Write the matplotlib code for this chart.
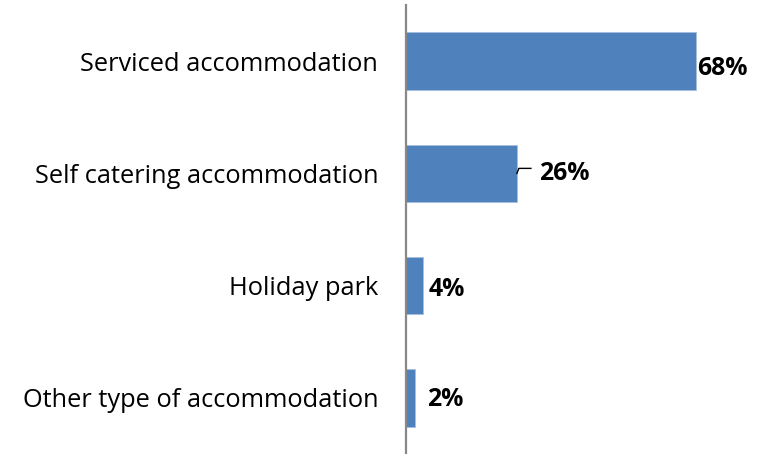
import matplotlib
matplotlib.use("Agg")
import matplotlib.pyplot as plt
from matplotlib.transforms import offset_copy

categories = ["Serviced accommodation", "Self catering accommodation",
              "Holiday park", "Other type of accommodation"]
values = [68, 26, 4, 2]
value_labels = ["68%", "26%", "4%", "2%"]

plt.rcParams['font.family'] = ['Open Sans', 'DejaVu Sans']

W, H = 765, 454
fig = plt.figure(figsize=(W / 100, H / 100), dpi=100)
ax_left = 406 / W
ax_top = (H - 5) / H
ax = fig.add_axes([ax_left, 0, 1 - ax_left, ax_top])

px_per_unit = (696 - 406) / 68.0
ax.set_xlim(0, (W - 406) / px_per_unit)
ax.set_ylim(len(categories) - 0.5, -0.5)

ypos = list(range(len(categories)))
ax.barh(ypos, values, height=0.511, color="#4f81bd", edgecolor="#a7bfde", linewidth=0.6)

ax.set_yticks(ypos)
ax.set_yticklabels(categories, fontsize=18.3, color="#000000")
ax.tick_params(axis="y", length=0, pad=20)
ax.set_xticks([])
for s in ["top", "right", "bottom"]:
    ax.spines[s].set_visible(False)
ax.spines["left"].set_color("#888888")
ax.spines["left"].set_linewidth(1.6)

# manual label positions in pixels relative to bar end / bar centre (baseline below centre)
offsets = [1, 22, 6, 13]
base_dy = [14, 6.5, 10.7, 8.2]
for i, (v, lab) in enumerate(zip(values, value_labels)):
    tr = offset_copy(ax.transData, fig=fig, x=offsets[i], y=-base_dy[i], units="dots")
    ax.text(v, i, lab, transform=tr, fontsize=17.8, fontweight="bold",
            ha="left", va="baseline", color="#000000")

# leader line for the 26% label
i = 1
v = values[i]
lx = [0, 2, 14]
ly = [0, 5, 5]
p = ax.transData.transform((v, i))
inv = fig.transFigure.inverted()
pts = [inv.transform((p[0] + a, p[1] + b)) for a, b in zip(lx, ly)]
fx, fy = zip(*pts)
fig.add_artist(plt.Line2D(fx, fy, color="#000000", linewidth=1.0, transform=fig.transFigure))

fig.savefig("out.png", dpi=100, facecolor="white")
